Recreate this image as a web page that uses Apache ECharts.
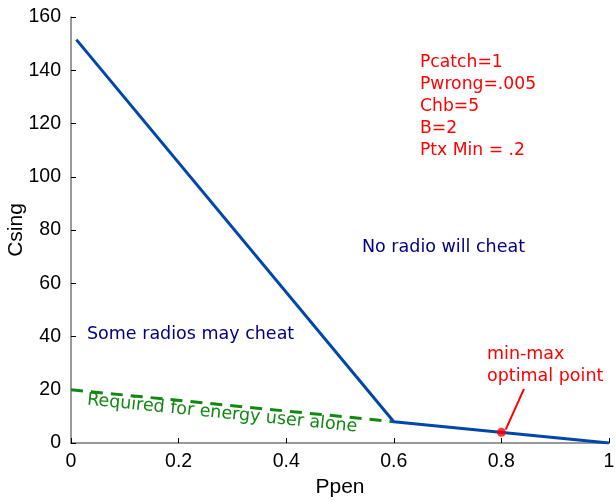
<!DOCTYPE html>
<html>
<head>
<meta charset="utf-8">
<script src="https://cdn.jsdelivr.net/npm/echarts@6/dist/echarts.min.js"></script>
<style>
  html, body { margin: 0; padding: 0; background: #fff; }
  #chart { width: 616px; height: 502px; }
</style>
</head>
<body>
<div id="chart"></div>
<script>
// Cost of a single cheater (Csing) against penalty probability (Ppen)
const boundaryX = [0.01, 0.6, 1.0];
const boundaryY = [151.5, 8, 0];

// Cost needed for the energy user alone
const energyX = [0, 0.6];
const energyY = [20, 8];

// Min-max optimal operating point
const optimalX = [0.8];
const optimalY = [4];

// Pointer from the caption to the optimal point
const pointerX = [0.842, 0.808];
const pointerY = [20.3, 5];

const xTicks = [0, 0.2, 0.4, 0.6, 0.8, 1];
const yTicks = [0, 20, 40, 60, 80, 100, 120, 140, 160];

const paramLines = ['Pcatch=1', 'Pwrong=.005', 'Chb=5', 'B=2', 'Ptx Min = .2'];

const pairs = (xs, ys) => xs.map((x, i) => [x, ys[i]]);

const chart = echarts.init(document.getElementById('chart'));

const labelFont = 'DejaVu Sans';
const axisFont = 'Liberation Sans';

chart.setOption({
  animation: false,
  backgroundColor: '#ffffff',
  grid: { left: 71, right: 7, top: 17, bottom: 59, containLabel: false, outerBoundsMode: 'none' },
  xAxis: {
    type: 'value',
    min: xTicks[0],
    max: xTicks[xTicks.length - 1],
    interval: 0.2,
    name: 'Ppen',
    nameLocation: 'middle',
    nameGap: 34,
    nameMoveOverlap: false,
    nameTextStyle: { fontFamily: axisFont, fontSize: 21, color: '#000' },
    axisLine: { show: true, lineStyle: { color: '#777', width: 1.5 } },
    axisTick: { show: true, inside: true, length: 5, lineStyle: { color: '#000' } },
    axisLabel: {
      fontFamily: axisFont, fontSize: 19.5, color: '#000', margin: 9,
      formatter: v => String(Math.round(v * 10) / 10)
    },
    splitLine: { show: false }
  },
  yAxis: {
    type: 'value',
    min: yTicks[0],
    max: yTicks[yTicks.length - 1],
    interval: 20,
    name: 'Csing',
    nameLocation: 'middle',
    nameGap: 44,
    nameMoveOverlap: false,
    nameTextStyle: { fontFamily: axisFont, fontSize: 21, color: '#000' },
    axisLine: { show: true, lineStyle: { color: '#777', width: 1.5 } },
    axisTick: { show: true, inside: true, length: 5, lineStyle: { color: '#000' } },
    axisLabel: { fontFamily: axisFont, fontSize: 19.5, color: '#000', margin: 10 },
    splitLine: { show: false }
  },
  series: [
    {
      name: 'energy',
      type: 'line',
      data: pairs(energyX, energyY),
      showSymbol: false,
      lineStyle: { color: '#118811', width: 3, type: [12, 8] },
      z: 2
    },
    {
      name: 'boundary',
      type: 'line',
      data: pairs(boundaryX, boundaryY),
      showSymbol: false,
      lineStyle: { color: '#0047ab', width: 3 },
      z: 3
    },
    {
      name: 'pointer',
      type: 'line',
      data: pairs(pointerX, pointerY),
      showSymbol: false,
      lineStyle: { color: '#ff0000', width: 2 },
      z: 4
    },
    {
      name: 'optimal',
      type: 'scatter',
      data: pairs(optimalX, optimalY),
      symbolSize: 9,
      itemStyle: { color: '#ff0000' },
      z: 5
    }
  ],
  graphic: [
    {
      type: 'text', left: 420, top: 52,
      style: {
        text: paramLines.join('\n'),
        fontFamily: labelFont, fontSize: 17.2, lineHeight: 21.8, fill: '#ff0000'
      }
    },
    {
      type: 'text', left: 362, top: 238,
      style: { text: 'No radio will cheat', fontFamily: labelFont, fontSize: 17.5, fill: '#000080' }
    },
    {
      type: 'text', left: 87, top: 325,
      style: { text: 'Some radios may cheat', fontFamily: labelFont, fontSize: 17.5, fill: '#000080' }
    },
    {
      type: 'text', x: 88, y: 391, rotation: -0.1,
      style: { text: 'Required for energy user alone', fontFamily: labelFont, fontSize: 17.5, fill: '#118811' }
    },
    {
      type: 'text', left: 487, top: 343,
      style: {
        text: 'min-max\noptimal point',
        fontFamily: labelFont, fontSize: 17.5, lineHeight: 22, fill: '#ff0000'
      }
    }
  ]
});
</script>
</body>
</html>
